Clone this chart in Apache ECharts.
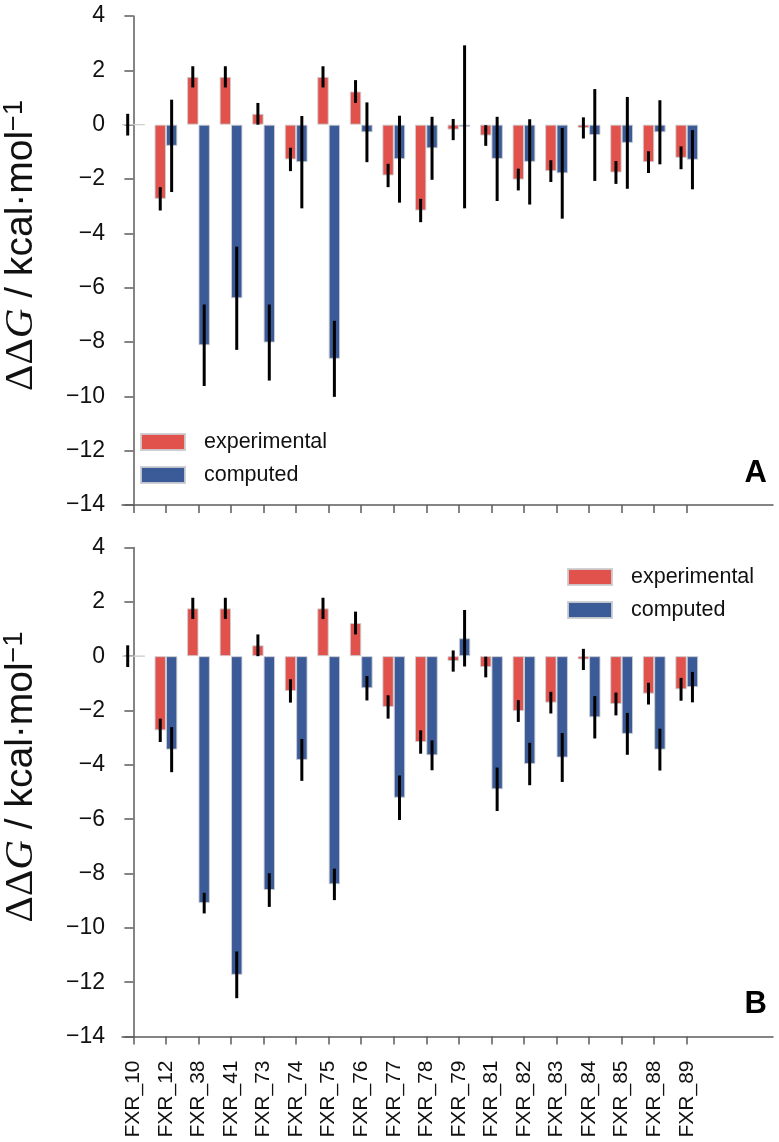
<!DOCTYPE html>
<html>
<head>
<meta charset="utf-8">
<script src="https://cdn.jsdelivr.net/npm/echarts@6/dist/echarts.min.js"></script>
<style>html,body{margin:0;padding:0;background:#fff;}#chart{width:779px;height:1142px;}</style>
</head>
<body>
<div id="chart"></div>
<script>
const categories = ['FXR_10','FXR_12','FXR_38','FXR_41','FXR_73','FXR_74','FXR_75','FXR_76','FXR_77','FXR_78','FXR_79','FXR_81','FXR_82','FXR_83','FXR_84','FXR_85','FXR_88','FXR_89'];
const experimental    = [0, -2.73, 1.76, 1.76, 0.40, -1.28, 1.76, 1.22, -1.87, -3.16, -0.18, -0.40, -2.02, -1.71, -0.12, -1.76, -1.38, -1.22];
const experimentalErr = [0.40, 0.43, 0.39, 0.39, 0.40, 0.43, 0.39, 0.42, 0.43, 0.43, 0.39, 0.38, 0.40, 0.40, 0.39, 0.42, 0.40, 0.42];
const computedA    = [0, -0.78, -8.12, -6.39, -8.02, -1.38, -8.62, -0.28, -1.27, -0.87, -0.08, -1.26, -1.37, -1.79, -0.38, -0.67, -0.28, -1.29];
const computedAErr = [null, 1.70, 1.50, 1.90, 1.40, 1.70, 1.40, 1.10, 1.60, 1.16, 3.00, 1.55, 1.57, 1.67, 1.69, 1.69, 1.18, 1.09];
const computedB    = [0, -3.44, -9.09, -11.73, -8.61, -3.82, -8.40, -1.18, -5.21, -3.65, 0.66, -4.90, -3.97, -3.73, -2.25, -2.86, -3.44, -1.14];
const computedBErr = [null, 0.83, 0.38, 0.86, 0.62, 0.77, 0.58, 0.45, 0.82, 0.55, 1.04, 0.80, 0.78, 0.90, 0.78, 0.77, 0.77, 0.56];
const yTicks = [4, 2, 0, -2, -4, -6, -8, -10, -12, -14];
const panelLabels = ['A', 'B'];
const seriesNames = ['experimental', 'computed'];

const RED = '#E0524B';
const BLUE = '#3B5A98';
const AXIS = '#5c5c5c';
const FONT = 'Liberation Sans, Arial, sans-serif';
const SERIF = 'Liberation Serif, DejaVu Serif, serif';
const BAR_FRAC = 0.35;
const idx = categories.map((c, i) => i);

function fmtY(v) { return v < 0 ? '\u2212' + Math.abs(v) : String(v); }

function xAxisFor(gridIndex, showLabels) {
  return {
    type: 'value', gridIndex: gridIndex, min: -0.35, max: 19.65,
    splitLine: { show: false },
    axisLine: { show: true, onZero: false, lineStyle: { color: AXIS, width: 1.5 } },
    axisTick: { show: true, customValues: idx, length: 8, lineStyle: { color: AXIS, width: 1.5 } },
    axisLabel: {
      show: showLabels, customValues: idx, rotate: 90, margin: 24,
      fontSize: 21, fontFamily: FONT, color: '#111',
      formatter: v => categories[Math.round(v)] || ''
    }
  };
}
function yAxisFor(gridIndex) {
  return {
    type: 'value', gridIndex: gridIndex, min: yTicks[yTicks.length - 1], max: yTicks[0], interval: 2,
    splitLine: { show: false },
    axisLine: { show: true, lineStyle: { color: AXIS, width: 1.5 } },
    axisTick: { show: true, length: 9, lineStyle: { color: AXIS, width: 1.5 } },
    axisLabel: { fontSize: 23, fontFamily: FONT, color: '#111', margin: 17, formatter: fmtY },
    name: '{d|ΔΔ}{g|G}{t| / kcal·mol}{s|\u22121}',
    nameLocation: 'middle', nameRotate: 90, nameGap: 80,
    nameTextStyle: {
      padding: [0, 0, 0, 30],
      rich: {
        d: { fontSize: 41, fontFamily: SERIF, color: '#111' },
        g: { fontSize: 41, fontFamily: SERIF, fontStyle: 'italic', color: '#111' },
        t: { fontSize: 39, fontFamily: FONT, color: '#111' },
        s: { fontSize: 27, fontFamily: FONT, color: '#111', verticalAlign: 'top' }
      }
    }
  };
}

function barSeries(name, values, axisIndex, color) {
  return {
    type: 'bar', name: name, xAxisIndex: axisIndex, yAxisIndex: axisIndex,
    data: values.map((v, i) => [i, v]),
    barWidth: (BAR_FRAC * 100) + '%', barGap: '0%',
    itemStyle: { color: color, borderColor: 'rgba(205,205,210,0.9)', borderWidth: 1 },
    emphasis: { disabled: true }, animation: false, z: 2
  };
}
function errSeries(name, values, errs, axisIndex, offset) {
  return {
    type: 'custom', name: name, xAxisIndex: axisIndex, yAxisIndex: axisIndex,
    data: values.map((v, i) => [i, v, errs[i] == null ? NaN : errs[i]]),
    encode: { x: 0, y: 1 },
    renderItem: function (params, api) {
      const x = api.value(0), v = api.value(1), e = api.value(2);
      if (isNaN(e)) return null;
      const p1 = api.coord([x + offset, v + e]);
      const p2 = api.coord([x + offset, v - e]);
      return { type: 'line', shape: { x1: p1[0], y1: p1[1], x2: p2[0], y2: p2[1] },
        style: { stroke: '#000', lineWidth: 3 } };
    },
    silent: true, animation: false, z: 5
  };
}

const legendCommon = {
  orient: 'vertical', icon: 'rect', itemWidth: 44, itemHeight: 16, itemGap: 11, padding: 0,
  selectedMode: false,
  textStyle: { fontSize: 21.5, fontFamily: FONT, color: '#111', lineHeight: 20, padding: [0, 0, 0, 14] },
  data: seriesNames
};

const option = {
  backgroundColor: '#fff',
  animation: false,
  grid: [
    { left: 122, top: 16, right: 6, height: 489, containLabel: false, outerBoundsMode: 'none' },
    { left: 122, top: 547.5, right: 6, height: 489, containLabel: false, outerBoundsMode: 'none' }
  ],
  xAxis: [xAxisFor(0, false), xAxisFor(1, true)],
  yAxis: [yAxisFor(0), yAxisFor(1)],
  legend: [
    Object.assign({}, legendCommon, { left: 140, top: 431 }),
    Object.assign({}, legendCommon, { left: 567, top: 566 })
  ],
  graphic: [
    { type: 'text', right: 12, top: 458, style: { text: panelLabels[0], font: 'bold 31px ' + FONT, fill: '#000' } },
    { type: 'text', right: 12, top: 989, style: { text: panelLabels[1], font: 'bold 31px ' + FONT, fill: '#000' } }
  ],
  series: [
    barSeries(seriesNames[0], experimental, 0, RED),
    barSeries(seriesNames[1], computedA, 0, BLUE),
    errSeries('expErrA', experimental, experimentalErr, 0, -BAR_FRAC / 2),
    errSeries('compErrA', computedA, computedAErr, 0, BAR_FRAC / 2),
    barSeries(seriesNames[0], experimental, 1, RED),
    barSeries(seriesNames[1], computedB, 1, BLUE),
    errSeries('expErrB', experimental, experimentalErr, 1, -BAR_FRAC / 2),
    errSeries('compErrB', computedB, computedBErr, 1, BAR_FRAC / 2)
  ]
};
const chart = echarts.init(document.getElementById('chart'), null, { renderer: 'canvas' });
chart.setOption(option);
</script>
</body>
</html>
